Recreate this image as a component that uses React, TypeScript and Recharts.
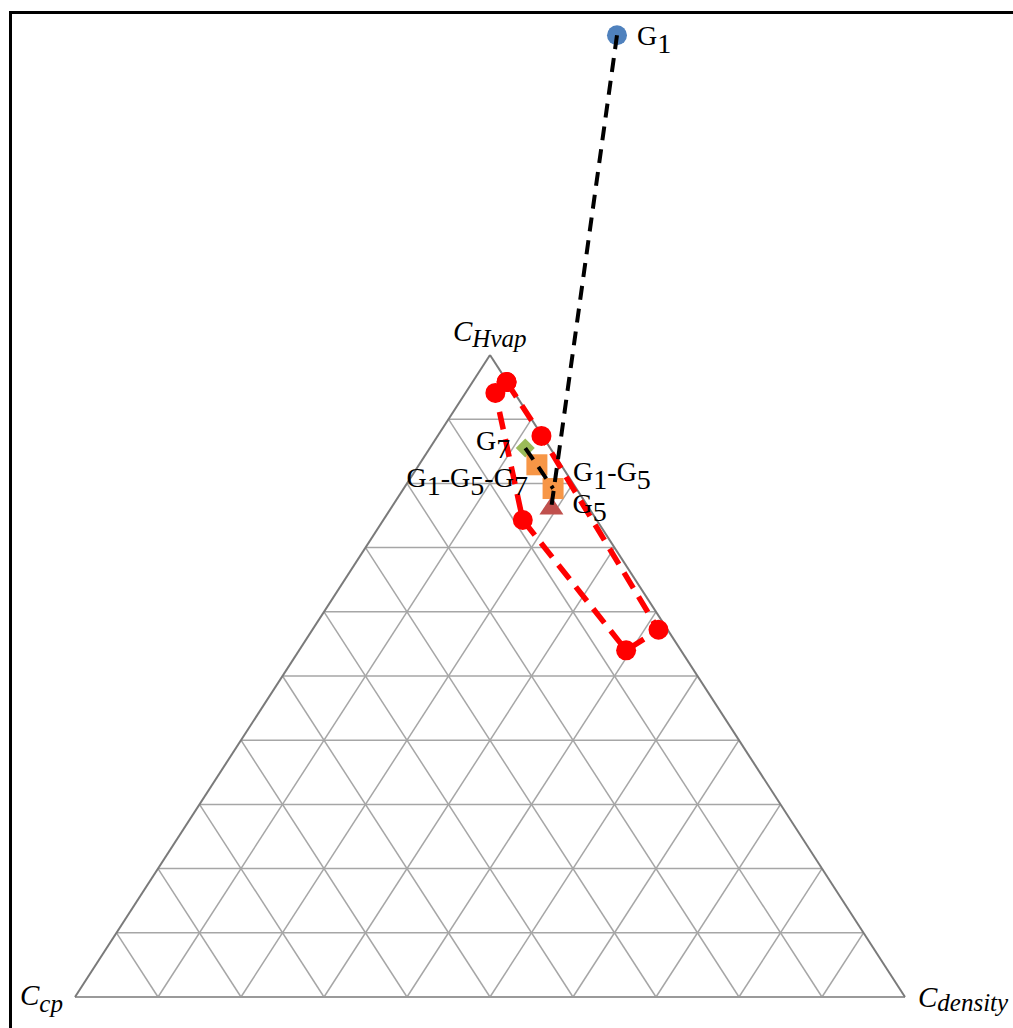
import React from 'react';
import { ScatterChart, Scatter, XAxis, YAxis, ReferenceLine } from 'recharts';

// Ternary compositions: share of C_Hvap and C_density (C_cp is the remainder).
// Feasible region outline, walked around its border and closed.
const regionNames = ['R1', 'R3', 'R5', 'R6', 'R4', 'R2', 'R1'];
const regionHvap = [0.958, 0.874, 0.572, 0.540, 0.743, 0.941, 0.958];
const regionDensity = [0.041, 0.125, 0.417, 0.394, 0.168, 0.036, 0.041];

// Gas blends
const blendNames = ['G1', 'G7', 'G1-G5-G7', 'G1-G5', 'G5'];
const blendHvap = [1.498, 0.855, 0.829, 0.792, 0.764];
const blendDensity = [-0.096, 0.115, 0.142, 0.180, 0.192];

// Mixing lines between blends
const mixLineA = ['G1', 'G5'];
const mixLineB = ['G7', 'G1-G5-G7', 'G1-G5'];

// Triangle corners
const cornerMain = ['C', 'C', 'C'];
const cornerSub = ['Hvap', 'cp', 'density'];
const cornerHvap = [1, 0, 0];
const cornerDensity = [0, 0, 1];

// Grid levels
const gridLevels = [0.1, 0.2, 0.3, 0.4, 0.5, 0.6, 0.7, 0.8, 0.9];

const W = 1013;
const H = 1028;
const FONT = '"Liberation Serif", "Times New Roman", serif';

const toXY = (hvap: number, density: number) => ({ x: density + hvap / 2, y: hvap });

const regionData = regionNames.map((name, i) => ({ name, ...toXY(regionHvap[i], regionDensity[i]) }));
const blendData = blendNames.map((name, i) => ({ name, ...toXY(blendHvap[i], blendDensity[i]) }));
const byName = (n: string) => blendData.find((d) => d.name === n)!;
const mixDataA = mixLineA.map(byName);
const mixDataB = mixLineB.map(byName);
const cornerData = cornerSub.map((sub, i) => ({ name: sub, main: cornerMain[i], sub, ...toXY(cornerHvap[i], cornerDensity[i]) }));

type Seg = [{ x: number; y: number }, { x: number; y: number }];
const gridSegments: Seg[] = [];
gridLevels.forEach((s) => {
  // constant C_Hvap
  gridSegments.push([{ x: s / 2, y: s }, { x: 1 - s / 2, y: s }]);
  // constant C_density
  gridSegments.push([{ x: s, y: 0 }, { x: s + (1 - s) / 2, y: 1 - s }]);
  // constant C_cp
  gridSegments.push([{ x: 1 - s, y: 0 }, { x: (1 - s) / 2, y: 1 - s }]);
});
const edgeSegments: Seg[] = [
  [{ x: 0, y: 0 }, { x: 0.5, y: 1 }],
  [{ x: 1, y: 0 }, { x: 0.5, y: 1 }],
];
const baseSegment: Seg = [{ x: 0, y: 0 }, { x: 1, y: 0 }];

// Plot placement: base from 75px to 905px, base at 997px, apex at 355px
const baseLeft = 75;
const baseWidth = 830;
const baseY = 997;
const triHeight = 642;
const xDomain = [-baseLeft / baseWidth, (W - baseLeft) / baseWidth];
const yDomain = [-(H - baseY) / triHeight, baseY / triHeight];

const Sub = ({ text, x, y, anchor }: { text: string; x: number; y: number; anchor: 'start' | 'end' }) => {
  // "G1-G5" -> G with subscript digits
  const parts = text.split('-');
  const children: React.ReactNode[] = [];
  parts.forEach((p, i) => {
    const letter = p.charAt(0);
    const num = p.slice(1);
    children.push(
      <tspan key={`l${i}`} dy={i === 0 ? 0 : -8}>{(i > 0 ? '-' : '') + letter}</tspan>
    );
    children.push(
      <tspan key={`n${i}`} dy={8}>{num}</tspan>
    );
  });
  return (
    <text x={x} y={y} textAnchor={anchor} fontFamily={FONT} fontSize={28} fill="#000">
      {children}
    </text>
  );
};

const labelPlacement: Record<string, { dx: number; dy: number; anchor: 'start' | 'end' }> = {
  G1: { dx: 20, dy: 10, anchor: 'start' },
  G7: { dx: -15, dy: 2, anchor: 'end' },
  'G1-G5-G7': { dx: -9, dy: 22, anchor: 'end' },
  'G1-G5': { dx: 20, dy: -8, anchor: 'start' },
  G5: { dx: 21, dy: 6, anchor: 'start' },
};

const BlendShape = (props: any) => {
  const { cx, cy, payload } = props;
  const name: string = payload.name;
  let marker: React.ReactNode = null;
  if (name === 'G1') {
    marker = <circle cx={cx} cy={cy} r={10} fill="#4F81BD" />;
  } else if (name === 'G7') {
    marker = (
      <polygon points={`${cx},${cy - 9.5} ${cx + 9.5},${cy} ${cx},${cy + 9.5} ${cx - 9.5},${cy}`} fill="#9BBB59" />
    );
  } else if (name === 'G5') {
    marker = (
      <polygon points={`${cx},${cy - 10} ${cx + 12},${cy + 8} ${cx - 12},${cy + 8}`} fill="#C0504D" />
    );
  } else {
    marker = <rect x={cx - 10.5} y={cy - 10.5} width={21} height={21} fill="#F79646" />;
  }
  const lp = labelPlacement[name];
  return (
    <g>
      {marker}
      <Sub text={name} x={cx + lp.dx} y={cy + lp.dy} anchor={lp.anchor} />
    </g>
  );
};

const cornerPlacement: Record<string, { dx: number; dy: number; shift: number }> = {
  Hvap: { dx: -37, dy: -14, shift: 6 },
  cp: { dx: -55, dy: 8, shift: 7 },
  density: { dx: 13, dy: 10, shift: 4 },
};

const CornerShape = (props: any) => {
  const { cx, cy, payload } = props;
  const p = cornerPlacement[payload.sub];
  return (
    <text x={cx + p.dx} y={cy + p.dy} fontFamily={FONT} fontStyle="italic" fontSize={29} fill="#000">
      {payload.main}
      <tspan dy={p.shift} fontSize={25}>{payload.sub}</tspan>
    </text>
  );
};

const RegionDot = (props: any) => <circle cx={props.cx} cy={props.cy} r={10} fill="#FF0000" />;
const NoDot = () => <g />;

export default function App() {
  return (
    <div style={{ position: 'absolute', left: 0, top: 0, width: W, height: H, overflow: 'hidden', background: '#fff' }}>
      <div
        style={{
          position: 'absolute',
          left: 9,
          top: 11,
          width: W + 100,
          height: H + 100,
          borderLeft: '3px solid #000',
          borderTop: '3px solid #000',
        }}
      />
      <div style={{ position: 'absolute', left: 0, top: 0 }}>
        <ScatterChart width={W} height={H} margin={{ top: 0, right: 0, bottom: 0, left: 0 }}>
          <XAxis type="number" dataKey="x" domain={xDomain} hide allowDataOverflow />
          <YAxis type="number" dataKey="y" domain={yDomain} hide allowDataOverflow />
          {gridSegments.map((seg, i) => (
            <ReferenceLine key={`g${i}`} segment={seg} stroke="#A6A6A6" strokeWidth={1.5} ifOverflow="visible" />
          ))}
          <ReferenceLine segment={baseSegment} stroke="#9A9A9A" strokeWidth={2} ifOverflow="visible" />
          {edgeSegments.map((seg, i) => (
            <ReferenceLine key={`e${i}`} segment={seg} stroke="#7A7A7A" strokeWidth={2} ifOverflow="visible" />
          ))}
          <Scatter
            data={regionData}
            fill="#FF0000"
            line={{ stroke: '#FF0000', strokeWidth: 5.5, strokeDasharray: '18 10' }}
            shape={RegionDot}
            isAnimationActive={false}
          />
          <Scatter data={blendData} fill="#F79646" shape={BlendShape} isAnimationActive={false} />
          <Scatter
            data={mixDataA}
            fill="#000"
            line={{ stroke: '#000', strokeWidth: 4, strokeDasharray: '14 9' }}
            shape={NoDot}
            isAnimationActive={false}
          />
          <Scatter
            data={mixDataB}
            fill="#000"
            line={{ stroke: '#000', strokeWidth: 4, strokeDasharray: '14 9' }}
            shape={NoDot}
            isAnimationActive={false}
          />
          <Scatter data={cornerData} fill="#000" shape={CornerShape} isAnimationActive={false} />
        </ScatterChart>
      </div>
    </div>
  );
}
